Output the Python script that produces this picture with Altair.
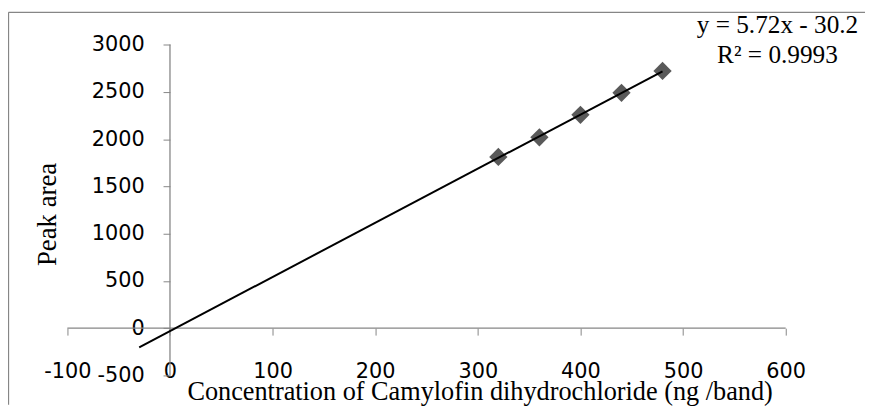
import altair as alt
import pandas as pd

# ---- data ----
conc = [320, 360, 400, 440, 480]
area = [1812, 2019, 2257, 2490, 2722]

x_ticks = [-100, 0, 100, 200, 300, 400, 500, 600]
y_ticks = [-500, 0, 500, 1000, 1500, 2000, 2500, 3000]

trend_extent = [-30, 480]
eq_text = "y = 5.72x - 30.2\nR\u00b2 = 0.9993"
eq_x = [592]
eq_y = [3205]

x_title = "Concentration of Camylofin dihydrochloride (ng /band)"
y_title = "Peak area"

# ---- layout ----
W, H = 865, 396
XMIN, XMAX = -157.85, 677.3
YMIN, YMAX = -804, 3347
y0_px = H * (YMAX - 0) / (YMAX - YMIN)
x0_px = W * (0 - XMIN) / (XMAX - XMIN)

GRAY = "#868686"
xscale = alt.Scale(domain=[XMIN, XMAX], nice=False, zero=False)
yscale = alt.Scale(domain=[YMIN, YMAX], nice=False, zero=False)

df = pd.DataFrame({"conc": conc, "area": area})
eq_df = pd.DataFrame({"x": eq_x, "y": eq_y, "label": [eq_text]})
xr_df = pd.DataFrame({"x": [min(x_ticks)], "x2": [max(x_ticks)], "y": [0]})
yr_df = pd.DataFrame({"y": [min(y_ticks)], "y2": [max(y_ticks)], "x": [0]})

main_x_axis = alt.Axis(
    orient="bottom", values=x_ticks, offset=-(H - y0_px), domain=False,
    ticks=True, tickSize=7, tickColor=GRAY, tickWidth=1, grid=False,
    labelFont="DejaVu Sans", labelFontSize=21, labelColor="black",
    labelBaseline="middle", labelPadding=37, labelFlush=False, labelOverlap=False,
    labelExpr="'' + datum.value",
    title=x_title, titleFont="Liberation Serif", titleFontSize=26.5,
    titleFontWeight="normal", titleColor="black", titleBaseline="middle",
    titleX=476, titleY=64, titleAlign="center",
)
main_y_axis = alt.Axis(
    orient="left", values=y_ticks, offset=-x0_px, domain=False,
    ticks=True, tickSize=7, tickColor=GRAY, tickWidth=1, grid=False,
    labelFont="DejaVu Sans", labelFontSize=21, labelColor="black",
    labelPadding=19, labelFlush=False, labelOverlap=False,
    labelExpr="'' + datum.value", title=None,
)
border_x_axis = alt.Axis(
    orient="top", offset=0, domain=True, domainColor=GRAY, domainWidth=1.3,
    ticks=False, labels=False, grid=False, title=None,
)
border_y_axis = alt.Axis(
    orient="left", offset=0, domain=True, domainColor=GRAY, domainWidth=1.3,
    ticks=False, labels=False, grid=False,
    title=y_title, titleFont="Liberation Serif", titleFontSize=27,
    titleFontWeight="normal", titleColor="black", titleAngle=-90,
    titleX=40, titleY=204, titleAlign="center", titleBaseline="middle",
)

xrule = alt.Chart(xr_df).mark_rule(color=GRAY, strokeWidth=1.3).encode(
    x=alt.X("x:Q", scale=xscale, axis=None),
    x2="x2:Q",
    y=alt.Y("y:Q", scale=yscale, axis=None),
)
yrule = alt.Chart(yr_df).mark_rule(color=GRAY, strokeWidth=1.3).encode(
    y=alt.Y("y:Q", scale=yscale, axis=None),
    y2="y2:Q",
    x=alt.X("x:Q", scale=xscale, axis=None),
)
points = alt.Chart(df).mark_point(
    shape="diamond", filled=True, size=340, color="#595959", opacity=1
).encode(
    x=alt.X("conc:Q", scale=xscale, axis=main_x_axis),
    y=alt.Y("area:Q", scale=yscale, axis=main_y_axis),
)
trend = alt.Chart(df).transform_regression(
    "conc", "area", extent=trend_extent
).mark_line(color="black", strokeWidth=2).encode(
    x=alt.X("conc:Q", scale=xscale, axis=border_x_axis),
    y=alt.Y("area:Q", scale=yscale, axis=border_y_axis),
)
eq = alt.Chart(eq_df).mark_text(
    lineBreak="\n", align="center", baseline="middle",
    font="Liberation Serif", fontSize=25.5, lineHeight=30, color="black",
).encode(
    x=alt.X("x:Q", scale=xscale, axis=None),
    y=alt.Y("y:Q", scale=yscale, axis=None),
    text="label:N",
)

chart = alt.layer(xrule, yrule, points, trend, eq).resolve_axis(
    x="independent", y="independent"
).properties(
    width=W, height=H,
    autosize=alt.AutoSizeParams(type="none"),
    padding={"left": 0, "top": 2, "right": 0, "bottom": 0},
).configure_view(stroke=None)

chart.save("out.html", embed_options={"renderer": "svg", "actions": False})
